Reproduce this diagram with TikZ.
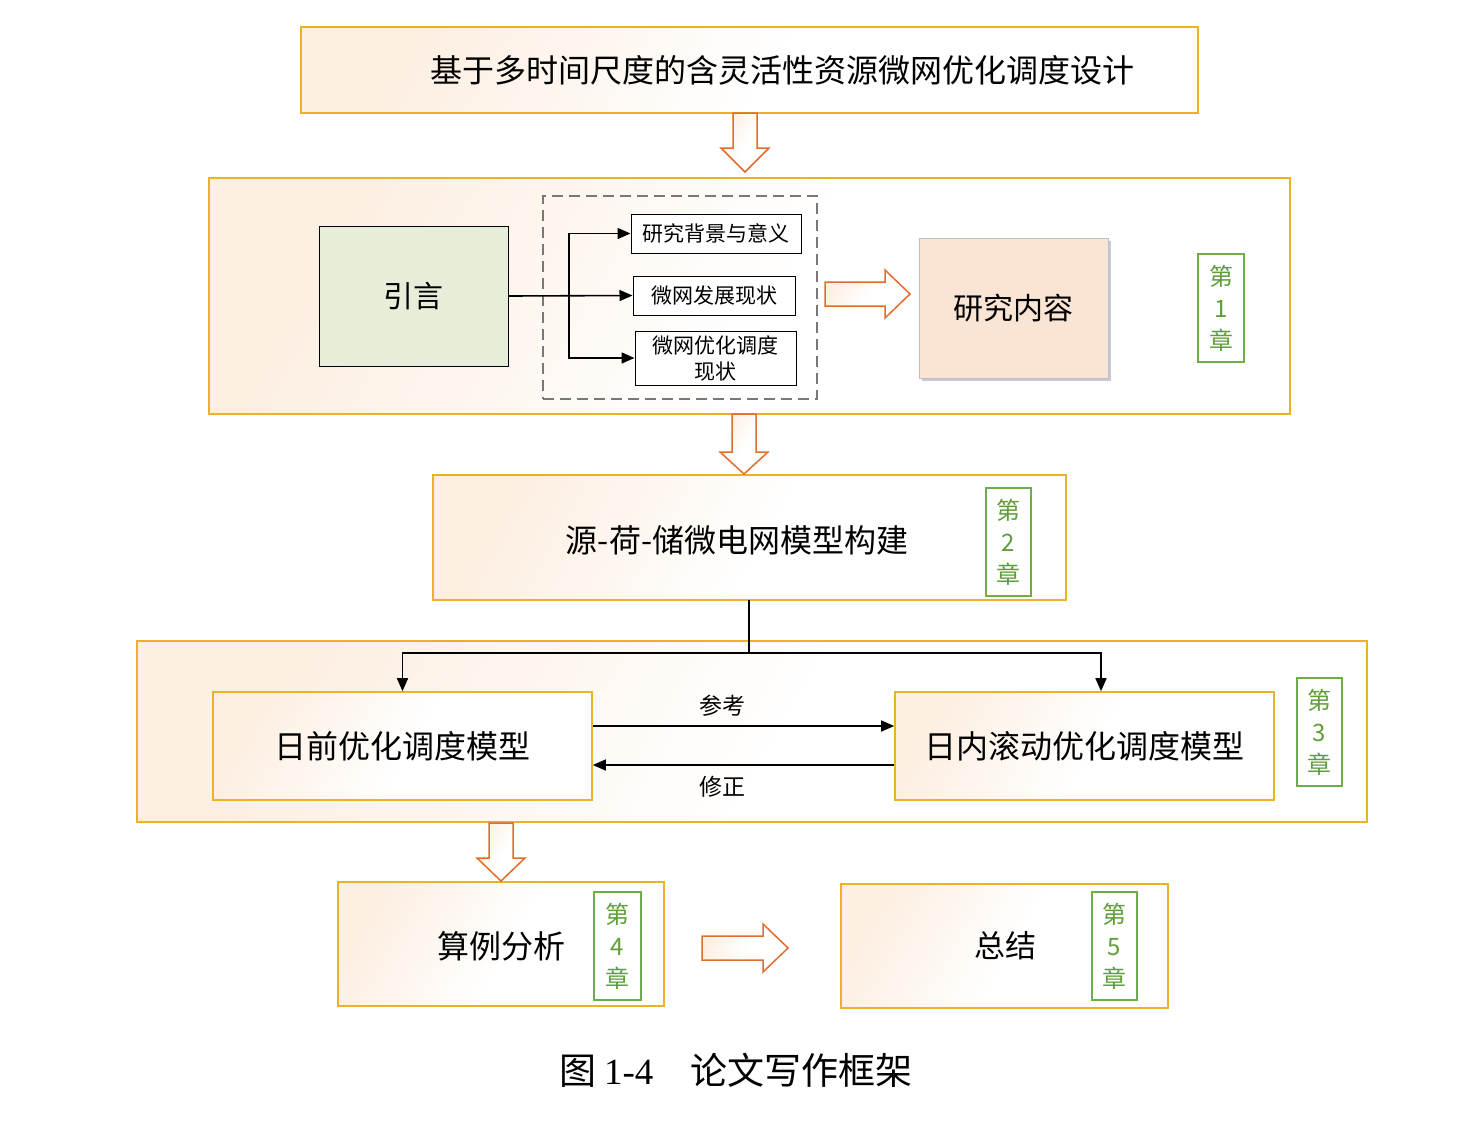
\documentclass[tikz,border=0pt]{standalone}
\usepackage{fontspec}
\setmainfont{Noto Sans CJK SC}
\newfontfamily\capserif{Liberation Serif}
\usetikzlibrary{shadows,arrows.meta}
\definecolor{gold}{RGB}{234,178,36}
\definecolor{peach}{RGB}{253,239,226}
\definecolor{arroworange}{RGB}{222,110,45}
\definecolor{chgreen}{RGB}{112,173,71}
\definecolor{chtext}{RGB}{96,158,58}
\definecolor{introgreen}{RGB}{230,238,217}
\definecolor{contentpeach}{RGB}{250,229,213}
\definecolor{dashgray}{RGB}{120,120,120}
\pgfdeclarehorizontalshading{peachfade}{100bp}{color(0bp)=(peach); color(25bp)=(peach); color(52bp)=(white); color(100bp)=(white)}
\newcommand{\fs}[1]{\fontsize{#1}{#1}\selectfont}
\tikzset{
  goldbox/.style={rectangle, draw=gold, line width=1.6pt, shading=peachfade, shading angle=-30, inner sep=0pt},
  chlabel/.style={rectangle, draw=chgreen, line width=1.5pt, fill=white, text=chtext, inner sep=0pt,
     minimum width=46pt, minimum height=108pt, align=center, font=\fontsize{24}{32}\selectfont},
  smallbox/.style={rectangle, draw=black, line width=1pt, fill=white, inner sep=0pt, align=center,
     font=\fontsize{21}{26}\selectfont},
  conn/.style={draw=black, line width=1.6pt},
  tipconn/.style={conn, -{Triangle[length=13pt,width=11pt]}},
  barrow/.style={draw=arroworange, line width=1.5pt, shading=peachfade, shading angle=-30, line join=miter},
  plain/.style={inner sep=0pt}
}
\begin{document}
\begin{tikzpicture}[x=1pt,y=-1pt]
\useasboundingbox[fill=white] (0,0) rectangle (1476,1144);

% title
\node[goldbox, minimum width=897pt, minimum height=86pt] (title) at (749.5,70) {};
\node[plain, font=\fs{32}] (titlet) at (782,70) {基于多时间尺度的含灵活性资源微网优化调度设计};

% chapter 1
\node[goldbox, minimum width=1081pt, minimum height=236pt] (ch1) at (749.5,296) {};
\node[rectangle, draw=black, line width=1pt, fill=introgreen, minimum width=189pt, minimum height=140pt, font=\fs{30}] (intro) at (413.5,296) {引言};
\node[rectangle, draw=dashgray, line width=1.8pt, dash pattern=on 11pt off 6pt, minimum width=274pt, minimum height=203pt] (dash) at (680,297.5) {};
\node[smallbox, minimum width=170pt, minimum height=39pt] (b1) at (716,233.5) {研究背景与意义};
\node[smallbox, minimum width=162pt, minimum height=39pt] (b2) at (714,295.5) {微网发展现状};
\node[smallbox, minimum width=161pt, minimum height=54pt] (b3) at (715.5,358) {微网优化调度\\现状};
\coordinate (split) at (569,296);
\draw[tipconn] (intro.east) -- (b2.west);
\draw[tipconn] (split) |- (b1.west);
\draw[tipconn] (split) |- (b3.west);
\node[rectangle, draw=black!25, line width=1pt, fill=contentpeach, minimum width=189pt, minimum height=140pt, font=\fs{30},
  drop shadow={shadow xshift=3pt, shadow yshift=-3pt, fill=blue!25!gray, opacity=0.35}] (content) at (1013.5,308) {研究内容};
\node[chlabel] (c1) at (1221,308) {第\\1\\章};

% chapter 2
\node[goldbox, minimum width=633pt, minimum height=125pt] (ch2) at (749.5,537.5) {};
\node[plain, font=\fs{32}] (ch2t) at (737,540) {源-荷-储微电网模型构建};
\node[chlabel, minimum width=45pt] (c2) at (1008.5,542) {第\\2\\章};

% chapter 3
\node[goldbox, minimum width=1230pt, minimum height=181pt] (ch3) at (752,731.5) {};
\node[goldbox, minimum width=379pt, minimum height=108pt, font=\fs{32}] (da) at (402.5,746) {日前优化调度模型};
\node[goldbox, minimum width=379pt, minimum height=108pt, font=\fs{32}] (id) at (1084.5,746) {日内滚动优化调度模型};
\node[chlabel, minimum width=45pt] (c3) at (1319.5,732) {第\\3\\章};
\coordinate (ch2out) at (749,600);
\coordinate (fork) at (749,653);
\draw[conn] (ch2out) -- (fork);
\draw[tipconn] (fork) -| (da.north);
\draw[tipconn] (fork) -| ([xshift=16.5pt]id.north);
\draw[tipconn] ([yshift=20pt]da.east) -- ([yshift=20pt]id.west);
\draw[tipconn] ([yshift=-19pt]id.west) -- ([yshift=-19pt]da.east);
\node[plain, font=\fs{23}] (ref) at (722,706) {参考};
\node[plain, font=\fs{23}] (fix) at (722,787) {修正};

% chapters 4, 5
\node[goldbox, minimum width=326pt, minimum height=124pt] (ex) at (501,944) {};
\node[plain, font=\fs{32}] (ext) at (501,946) {算例分析};
\node[chlabel, minimum width=47pt] (c4) at (617.5,946) {第\\4\\章};
\node[goldbox, minimum width=327pt, minimum height=124pt] (sum) at (1004.5,946) {};
\node[plain, font=\fs{31}] (sumt) at (1005,946) {总结};
\node[chlabel, minimum width=45pt] (c5) at (1114.5,946) {第\\5\\章};

% block arrows
\draw[barrow] (733,113) -- (733,148) -- (721,148) -- (745,172) -- (769,148) -- (757,148) -- (757,113) -- cycle;
\draw[barrow] (732,414) -- (732,452) -- (720,452) -- (744,474) -- (768,452) -- (756,452) -- (756,414) -- cycle;
\draw[barrow] (489,823) -- (489,858) -- (477,858) -- (501,881) -- (525,858) -- (513,858) -- (513,823) -- cycle;
\draw[barrow] (825,282) -- (885,282) -- (885,270) -- (910,294) -- (885,318) -- (885,306) -- (825,306) -- cycle;
\draw[barrow] (702,936) -- (763,936) -- (763,924) -- (788,948) -- (763,972) -- (763,960) -- (702,960) -- cycle;

% caption
\node[plain, font=\fs{37}] (cap) at (736,1070) {图\hspace{0.2em}{\capserif 1-4}\hspace{1em}论文写作框架};
\end{tikzpicture}
\end{document}
